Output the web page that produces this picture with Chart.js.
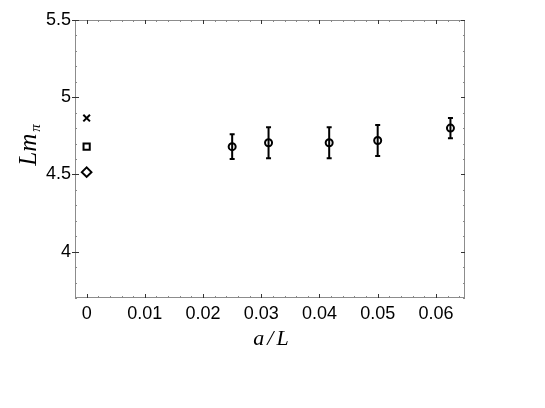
<!DOCTYPE html>
<html>
<head>
<meta charset="utf-8">
<script src="https://cdn.jsdelivr.net/npm/chart.js@4.4.1/dist/chart.umd.min.js"></script>
<style>
  html, body { margin: 0; background: #fff; }
</style>
</head>
<body>
<canvas id="chart" width="545" height="408"></canvas>
<script>
// lattice results (circles with error bars)
const aOverL = [0.025, 0.03125, 0.041667, 0.05, 0.0625];
const lmPi = [4.68, 4.705, 4.705, 4.72, 4.80];
const lmPiErr = [0.08, 0.10, 0.10, 0.10, 0.066];

// continuum values at a/L = 0
const contX = [0];
const crossY = [4.865];
const squareY = [4.68];
const diamondY = [4.515];

const xTicks = [0, 0.01, 0.02, 0.03, 0.04, 0.05, 0.06];
const yTicks = [4, 4.5, 5, 5.5];

const tickFont = { family: '"Liberation Sans", Arial, sans-serif', size: 18 };
const serif = '"Liberation Serif", "Times New Roman", serif';

function pts(xs, ys) {
  return xs.map((x, i) => ({ x, y: ys[i] }));
}

const errorBars = {
  id: 'errorBars',
  afterDatasetsDraw(chart) {
    const { ctx, scales: { x, y } } = chart;
    ctx.save();
    ctx.strokeStyle = '#000';
    ctx.lineWidth = 2;
    aOverL.forEach((v, i) => {
      const px = x.getPixelForValue(v);
      const top = y.getPixelForValue(lmPi[i] + lmPiErr[i]);
      const bot = y.getPixelForValue(lmPi[i] - lmPiErr[i]);
      ctx.beginPath();
      ctx.moveTo(px, top); ctx.lineTo(px, bot);
      ctx.moveTo(px - 2.5, top); ctx.lineTo(px + 2.5, top);
      ctx.moveTo(px - 2.5, bot); ctx.lineTo(px + 2.5, bot);
      ctx.stroke();
    });
    ctx.restore();
  }
};

// frame, inward ticks on all sides, axis titles
const frame = {
  id: 'frame',
  afterDraw(chart) {
    const { ctx, chartArea: a, scales: { x, y } } = chart;
    ctx.save();
    ctx.strokeStyle = '#8c8c8c';
    ctx.lineWidth = 1;
    ctx.strokeRect(a.left + 0.5, a.top + 0.5, a.right - a.left - 1, a.bottom - a.top - 1);

    const line = (x1, y1, x2, y2, col) => {
      ctx.strokeStyle = col;
      ctx.beginPath(); ctx.moveTo(x1, y1); ctx.lineTo(x2, y2); ctx.stroke();
    };
    for (let k = -1; k <= 33; k++) {
      const v = k * 0.002;
      if (v < x.min || v > x.max) continue;
      const px = Math.round(x.getPixelForValue(v)) + 0.5;
      const major = k % 5 === 0;
      const len = major ? 4 : 2;
      const col = major ? '#333' : '#888';
      line(px, a.bottom, px, a.bottom - len, col);
      line(px, a.top, px, a.top + len, col);
    }
    for (let k = 37; k <= 55; k++) {
      const v = k / 10;
      const py = Math.round(y.getPixelForValue(v)) + 0.5;
      const major = k % 5 === 0;
      const len = major ? 4 : 2;
      const col = major ? '#333' : '#888';
      line(major ? a.left - 3 : a.left, py, a.left + len, py, col);
      line(a.right, py, a.right - len, py, col);
    }

    ctx.fillStyle = '#000';
    // x title a/L
    ctx.font = 'italic 22px ' + serif;
    ctx.textBaseline = 'alphabetic';
    ctx.textAlign = 'left';
    const parts = ['a', '/', 'L'];
    const gap = 3;
    const widths = parts.map(p => ctx.measureText(p).width);
    const total = widths.reduce((s, w) => s + w, 0) + gap * 2;
    let cx = 271 - total / 2;
    parts.forEach((p, i) => {
      ctx.fillText(p, cx, 345);
      cx += widths[i] + gap;
    });

    // y title L m_pi
    ctx.translate(36, 145);
    ctx.rotate(-Math.PI / 2);
    ctx.font = 'italic 25px ' + serif;
    const wLm = ctx.measureText('Lm').width + 2;
    ctx.font = 'italic 15px ' + serif;
    const wPi = ctx.measureText('π').width;
    const start = -(wLm + wPi) / 2;
    ctx.font = 'italic 25px ' + serif;
    ctx.fillText('Lm', start, 0);
    ctx.font = 'italic 15px ' + serif;
    ctx.fillText('π', start + wLm, 4);
    ctx.restore();
  }
};

new Chart(document.getElementById('chart'), {
  type: 'scatter',
  data: {
    datasets: [
      {
        data: pts(aOverL, lmPi),
        pointStyle: 'circle',
        pointRadius: 3.5,
        borderWidth: 2,
        borderColor: '#000',
        backgroundColor: 'rgba(0,0,0,0)'
      },
      {
        data: pts(contX, crossY),
        pointStyle: 'crossRot',
        pointRadius: 4.7,
        borderWidth: 2,
        borderColor: '#000'
      },
      {
        data: pts(contX, squareY),
        pointStyle: 'rect',
        pointRadius: 4.4,
        borderWidth: 2,
        borderColor: '#000',
        backgroundColor: 'rgba(0,0,0,0)'
      },
      {
        data: pts(contX, diamondY),
        pointStyle: 'rectRot',
        pointRadius: 4.8,
        borderWidth: 2,
        borderColor: '#000',
        backgroundColor: 'rgba(0,0,0,0)'
      }
    ]
  },
  options: {
    responsive: false,
    animation: false,
    events: [],
    layout: { padding: { top: 20, right: 80, left: 0, bottom: 0 } },
    plugins: { legend: { display: false }, tooltip: { enabled: false } },
    scales: {
      x: {
        type: 'linear',
        min: -0.002,
        max: 0.065,
        afterBuildTicks: (s) => { s.ticks = xTicks.map(v => ({ value: v })); },
        afterFit: (s) => { s.height = 110; },
        grid: { display: false, drawTicks: false },
        border: { display: false },
        ticks: {
          font: tickFont,
          color: '#000',
          padding: 5,
          maxRotation: 0,
          autoSkip: false,
          callback: (v) => (v === 0 ? '0' : v.toFixed(2))
        }
      },
      y: {
        type: 'linear',
        min: 3.7,
        max: 5.5,
        afterBuildTicks: (s) => { s.ticks = yTicks.map(v => ({ value: v })); },
        afterFit: (s) => { s.width = 75; },
        grid: { display: false, drawTicks: false },
        border: { display: false },
        ticks: {
          font: tickFont,
          color: '#000',
          padding: 4,
          autoSkip: false,
          callback: (v) => String(v)
        }
      }
    }
  },
  plugins: [errorBars, frame]
});
</script>
</body>
</html>
